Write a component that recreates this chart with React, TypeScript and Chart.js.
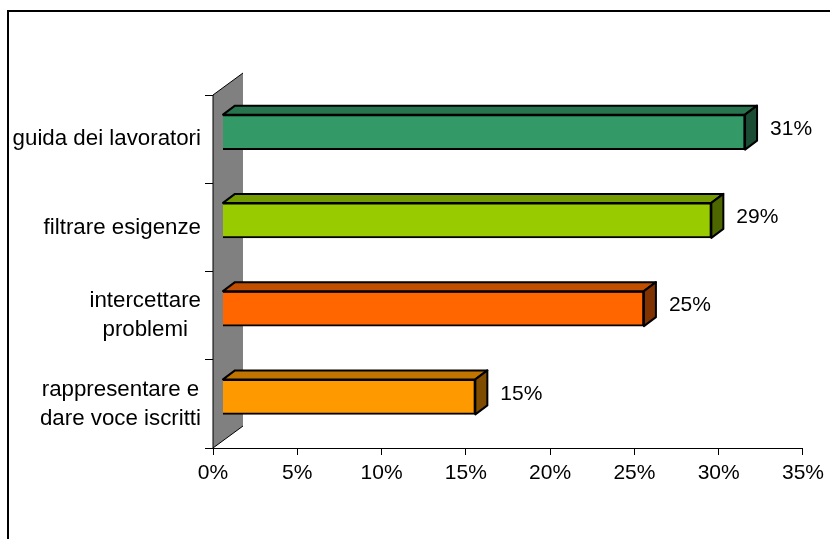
import { useEffect, useRef } from "react";
import { Chart, registerables } from "chart.js";

Chart.register(...registerables);

// Category labels, top to bottom (one entry per line)
const categories: string[][] = [
  ["guida dei lavoratori"],
  ["filtrare esigenze"],
  ["intercettare", "problemi"],
  ["rappresentare e", "dare voce iscritti"],
];

// Share of answers per category (%)
const shares = [31, 29, 25, 15];

// Front-face colour of each bar
const barColors = ["#339966", "#99CC00", "#FF6600", "#FF9900"];

// Percentage axis
const axisMin = 0;
const axisMax = 35;
const axisStep = 5;

// Pseudo-3D projection offsets (pixels)
const FRONT_SHIFT = { x: 9.5, y: -7 };
const BAR_DEPTH = { x: 12, y: -9 };
const WALL_DEPTH = { x: 30, y: -22 };
const LABEL_GAP = 25;

const FONT = "'Liberation Sans', Arial, Helvetica, sans-serif";
const CAT_FONT_SIZE = 22.3;
const CAT_LINE_HEIGHT = 29;

function shade(hex: string, f: number): string {
  const n = parseInt(hex.slice(1), 16);
  const r = Math.round(((n >> 16) & 255) * f);
  const g = Math.round(((n >> 8) & 255) * f);
  const b = Math.round((n & 255) * f);
  return `rgb(${r},${g},${b})`;
}

function poly(ctx: CanvasRenderingContext2D, pts: number[][], fill: string) {
  ctx.beginPath();
  ctx.moveTo(pts[0][0], pts[0][1]);
  for (let i = 1; i < pts.length; i++) ctx.lineTo(pts[i][0], pts[i][1]);
  ctx.closePath();
  ctx.fillStyle = fill;
  ctx.fill();
  ctx.stroke();
}

const box3d = {
  id: "box3d",
  beforeDatasetsDraw(chart: any) {
    const { ctx, chartArea: a } = chart;
    ctx.save();
    // grey side wall behind the category axis
    ctx.beginPath();
    ctx.moveTo(a.left, a.bottom);
    ctx.lineTo(a.left, a.top);
    ctx.lineTo(a.left + WALL_DEPTH.x, a.top + WALL_DEPTH.y);
    ctx.lineTo(a.left + WALL_DEPTH.x, a.bottom + WALL_DEPTH.y);
    ctx.closePath();
    ctx.fillStyle = "#808080";
    ctx.fill();
    ctx.beginPath();
    ctx.moveTo(a.left + WALL_DEPTH.x, a.bottom + WALL_DEPTH.y);
    ctx.lineTo(a.left, a.bottom);
    ctx.lineTo(a.left, a.top);
    ctx.lineTo(a.left + WALL_DEPTH.x, a.top + WALL_DEPTH.y);
    ctx.strokeStyle = "#000";
    ctx.lineWidth = 1;
    ctx.stroke();
    ctx.restore();
  },
  beforeDatasetDraw(chart: any) {
    chart.ctx.save();
    chart.ctx.translate(FRONT_SHIFT.x, FRONT_SHIFT.y);
  },
  afterDatasetDraw(chart: any, args: any) {
    const ctx: CanvasRenderingContext2D = chart.ctx;
    ctx.lineWidth = 2;
    ctx.lineJoin = "round";
    ctx.strokeStyle = "#000";
    args.meta.data.forEach((el: any, i: number) => {
      const { x, y, base, height } = el.getProps(["x", "y", "base", "height"], true);
      const top = y - height / 2;
      const bottom = y + height / 2;
      const dx = BAR_DEPTH.x;
      const dy = BAR_DEPTH.y;
      const c = barColors[i];
      // top face
      poly(ctx, [[base, top], [x, top], [x + dx, top + dy], [base + dx, top + dy]], shade(c, 0.76));
      // end face
      poly(ctx, [[x, top], [x + dx, top + dy], [x + dx, bottom + dy], [x, bottom]], shade(c, 0.5));
      // value label
      ctx.fillStyle = "#000";
      ctx.font = `21px ${FONT}`;
      ctx.textAlign = "left";
      ctx.textBaseline = "middle";
      ctx.fillText(`${shares[i]}%`, x + LABEL_GAP, y - 3);
    });
    ctx.restore();
  },
  afterDraw(chart: any) {
    // category labels: block right-aligned to the axis, lines centred within the block
    const ctx: CanvasRenderingContext2D = chart.ctx;
    const yScale = chart.scales.y;
    const right = chart.chartArea.left - 8 - 4;
    ctx.save();
    ctx.font = `${CAT_FONT_SIZE}px ${FONT}`;
    ctx.fillStyle = "#000";
    ctx.textAlign = "center";
    ctx.textBaseline = "middle";
    categories.forEach((lines, i) => {
      const cy = yScale.getPixelForTick(i);
      const w = Math.max(...lines.map((l) => ctx.measureText(l).width));
      const cx = right - w / 2;
      const y0 = cy - ((lines.length - 1) * CAT_LINE_HEIGHT) / 2;
      lines.forEach((l, k) => ctx.fillText(l, cx, y0 + k * CAT_LINE_HEIGHT));
    });
    ctx.restore();
  },
};

export default function App() {
  const ref = useRef<HTMLCanvasElement | null>(null);

  useEffect(() => {
    if (!ref.current) return;
    Chart.defaults.font.family = FONT;
    const chart = new Chart(ref.current, {
      type: "bar",
      data: {
        labels: categories.map((l) => l.join(" ")),
        datasets: [
          {
            data: shares,
            backgroundColor: barColors,
            borderColor: "#000",
            borderWidth: 2,
            barThickness: 35,
            clip: false as any,
          },
        ],
      },
      options: {
        indexAxis: "y",
        responsive: false,
        animation: false,
        layout: { padding: { top: 95, right: 24, left: 0, bottom: 0 } },
        plugins: {
          legend: { display: false },
          tooltip: { enabled: false },
        },
        scales: {
          x: {
            type: "linear",
            min: axisMin,
            max: axisMax,
            ticks: {
              stepSize: axisStep,
              color: "#000",
              font: { size: 21 },
              padding: 6,
              callback: (v: any) => `${v}%`,
            },
            grid: { drawOnChartArea: false, drawTicks: true, tickLength: 7, color: "#000" },
            border: { display: true, color: "#000", width: 1 },
            afterFit: (s: any) => {
              s.height = 91;
            },
          },
          y: {
            type: "category",
            offset: true,
            ticks: { display: false },
            grid: { offset: true, drawOnChartArea: false, drawTicks: true, tickLength: 8, color: "#000" },
            border: { display: true, color: "#000", width: 1 },
            afterFit: (s: any) => {
              s.width = 213;
            },
          },
        },
      },
      plugins: [box3d as any],
    });
    return () => chart.destroy();
  }, []);

  return (
    <div
      style={{
        position: "fixed",
        left: 0,
        top: 0,
        width: 830,
        height: 539,
        overflow: "hidden",
        background: "#fff",
      }}
    >
      <div
        style={{
          position: "absolute",
          left: 7,
          top: 10,
          width: 900,
          height: 600,
          border: "2px solid #000",
          boxSizing: "border-box",
        }}
      />
      <canvas
        ref={ref}
        width={830}
        height={539}
        style={{ position: "absolute", left: 0, top: 0, display: "block" }}
      />
    </div>
  );
}
